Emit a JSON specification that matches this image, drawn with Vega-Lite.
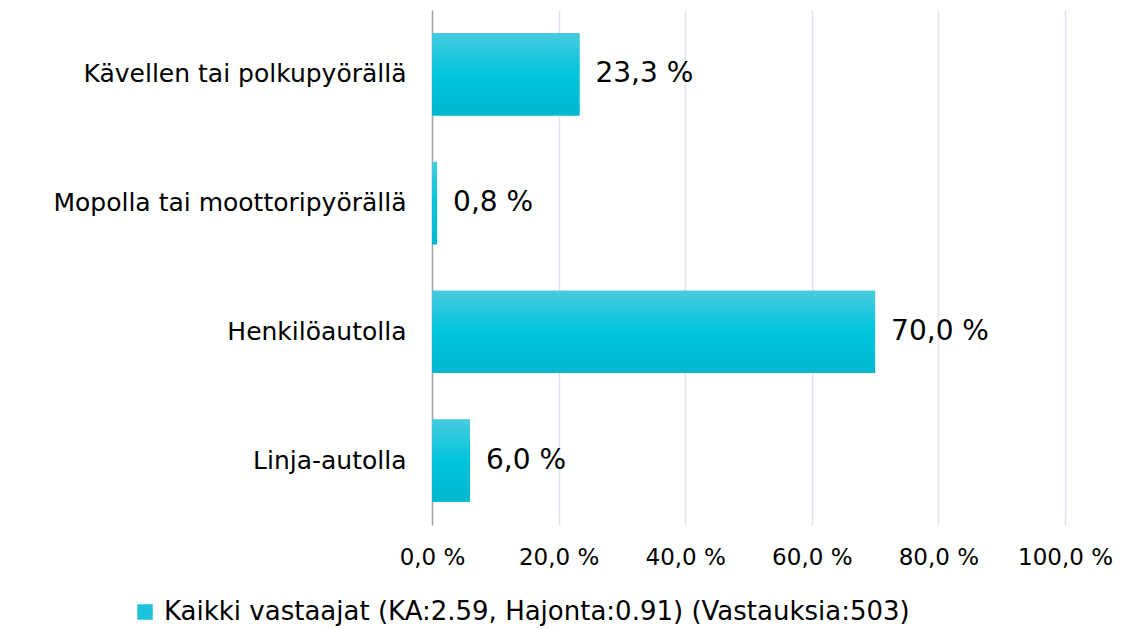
{
  "$schema": "https://vega.github.io/schema/vega-lite/v6.json",
  "width": 633,
  "height": 515,
  "autosize": {"type": "none"},
  "padding": {"left": 432, "top": 10, "right": 60, "bottom": 104},
  "background": "white",
  "data": {
    "values": [
      {"kulku": "Kävellen tai polkupyörällä", "osuus": 23.3, "sarja": "Kaikki vastaajat (KA:2.59, Hajonta:0.91) (Vastauksia:503)"},
      {"kulku": "Mopolla tai moottoripyörällä", "osuus": 0.8, "sarja": "Kaikki vastaajat (KA:2.59, Hajonta:0.91) (Vastauksia:503)"},
      {"kulku": "Henkilöautolla", "osuus": 70.0, "sarja": "Kaikki vastaajat (KA:2.59, Hajonta:0.91) (Vastauksia:503)"},
      {"kulku": "Linja-autolla", "osuus": 6.0, "sarja": "Kaikki vastaajat (KA:2.59, Hajonta:0.91) (Vastauksia:503)"}
    ]
  },
  "transform": [
    {"calculate": "replace(format(datum.osuus, '.1f'), '.', ',') + ' %'", "as": "nimio"}
  ],
  "encoding": {
    "y": {
      "field": "kulku",
      "type": "nominal",
      "sort": null,
      "title": null,
      "scale": {"paddingInner": 0.36, "paddingOuter": 0.18},
      "axis": {
        "domain": true,
        "domainColor": "#a6a6a6",
        "domainWidth": 1.5,
        "ticks": false,
        "grid": false,
        "labelPadding": 26,
        "labelFont": "DejaVu Sans",
        "labelFontSize": 25,
        "labelLimit": 500,
        "labelColor": "#000000"
      }
    },
    "x": {
      "field": "osuus",
      "type": "quantitative",
      "title": null,
      "scale": {"domain": [0, 100], "nice": false},
      "axis": {
        "values": [0, 20, 40, 60, 80, 100],
        "labelExpr": "replace(format(datum.value, '.1f'), '.', ',') + ' %'",
        "domain": false,
        "ticks": false,
        "grid": true,
        "gridColor": "#dbe3ef",
        "gridWidth": 1.5,
        "labelPadding": 21,
        "labelFont": "DejaVu Sans",
        "labelFontSize": 23,
        "labelColor": "#000000",
        "labelFlush": false,
        "labelOverlap": false
      }
    }
  },
  "layer": [
    {
      "mark": {"type": "bar"},
      "encoding": {
        "color": {
          "field": "sarja",
          "type": "nominal",
          "scale": {"range": ["#1cc3da"]},
          "legend": {
            "title": null,
            "orient": "none",
            "legendX": -300,
            "legendY": 589,
            "symbolType": "square",
            "symbolSize": 240,
            "symbolStrokeWidth": 0,
            "labelFont": "DejaVu Sans",
            "labelFontSize": 26,
            "labelColor": "#000000",
            "labelLimit": 1000,
            "labelOffset": 6,
            "padding": 0
          }
        }
      }
    },
    {
      "mark": {
        "type": "bar",
        "color": {
          "gradient": "linear",
          "x1": 0, "y1": 0, "x2": 0, "y2": 1,
          "stops": [
            {"offset": 0, "color": "#48cbde"},
            {"offset": 0.5, "color": "#00c4dc"},
            {"offset": 1, "color": "#00b8d0"}
          ]
        }
      }
    },
    {
      "mark": {
        "type": "text",
        "align": "left",
        "baseline": "middle",
        "dx": 16,
        "font": "DejaVu Sans",
        "fontSize": 28,
        "color": "#000000"
      },
      "encoding": {"text": {"field": "nimio"}}
    }
  ],
  "config": {"view": {"stroke": null}}
}
